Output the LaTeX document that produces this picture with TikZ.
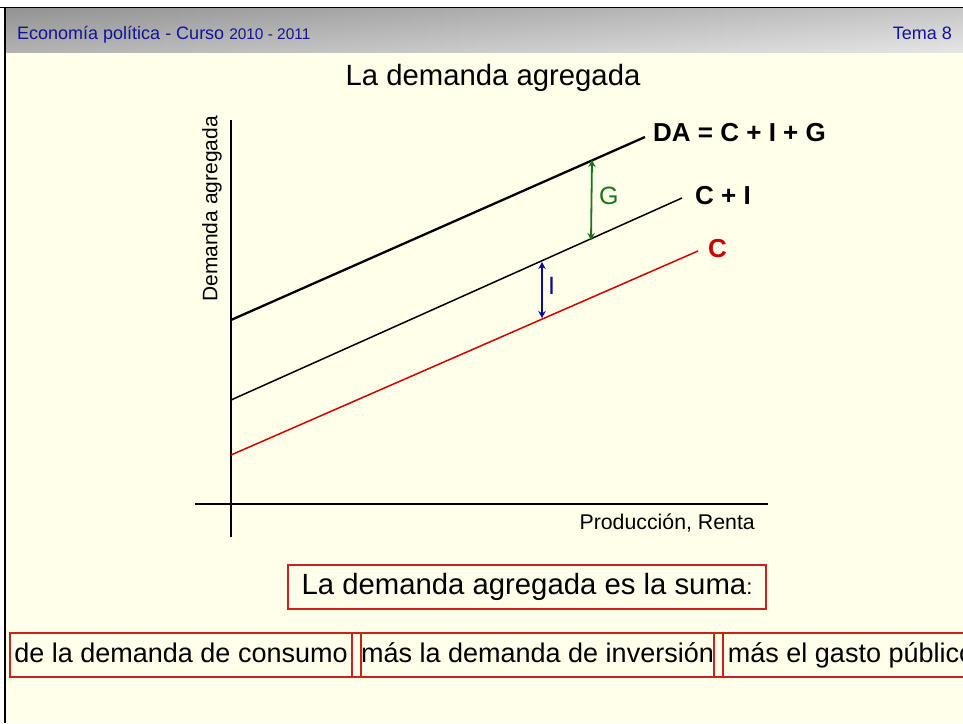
\documentclass[tikz,border=0pt]{standalone}
\usepackage{fontspec}
\setmainfont{Liberation Sans}
\usetikzlibrary{arrows.meta}
\definecolor{bg}{HTML}{FFFFEA}
\definecolor{hdrdark}{HTML}{A8A8A8}
\definecolor{hdrmid}{HTML}{D4D4D4}
\definecolor{hdrlight}{HTML}{E2E2E2}
\definecolor{hdrblue}{HTML}{12129C}
\definecolor{cred}{HTML}{CC0000}
\definecolor{ggreen}{HTML}{17761A}
\definecolor{iblue}{HTML}{0C0C9A}
\definecolor{boxred}{HTML}{CC2020}
\tikzset{
  fs/.style={font=\fontsize{#1}{#1}\selectfont},
  bfs/.style={font=\bfseries\fontsize{#1}{#1}\selectfont},
  curve/.style={line width=1.5pt},
  gaparrow/.style={line width=1.8pt,{Stealth[length=7pt,width=7.5pt]}-{Stealth[length=7pt,width=7.5pt]}},
  sumbox/.style={draw=boxred,line width=1.1pt,inner sep=0pt,minimum height=44pt,fs=27,
    text height=19.5pt,text depth=5.5pt},
}
\begin{document}
\begin{tikzpicture}[x=1pt,y=-1pt]
\useasboundingbox (0,0) rectangle (963,723);
\clip (0,0) rectangle (963,723);
\fill[white] (0,0) rectangle (963,723);
\fill[bg] (6,52) rectangle (963,723);
\shade[left color=hdrdark,middle color=hdrmid,right color=hdrlight] (6,8) rectangle (963,52);
\shade[top color=black,bottom color=white,opacity=0.12] (6,8) rectangle (963,52);
\draw[line width=1.5pt] (0,7.5) -- (963,7.5);
\draw[line width=2.5pt] (5,7) -- (5,723);

% header
\node[anchor=base west,inner sep=0pt,text=hdrblue,fs=18] (hdr) at (17,39)
  {Economía política - Curso {\fontsize{15.4}{16}\selectfont 2010 - 2011}};
\node[anchor=base east,inner sep=0pt,text=hdrblue,fs=18] (tema) at (952,39) {Tema 8};

% title
\node[anchor=base,inner sep=0pt,fs=29.3] (title) at (493,85) {La demanda agregada};

% axes
\coordinate (yb) at (231,537);
\coordinate (yt) at (231,120);
\coordinate (xl) at (195,504);
\coordinate (xr) at (768,504);
\draw[line width=2pt] (yb) -- (yt);
\draw[line width=1.3pt] (xl) -- (xr);
\node[rotate=90,inner sep=0pt,fs=21] (ylab) at (212,209) {Demanda agregada};
\node[anchor=base east,inner sep=0pt,fs=21.3] (xlab) at (755,529) {Producción, Renta};

% curves
\coordinate (da0) at (231,320);
\coordinate (da1) at (645,137);
\coordinate (ci0) at (231,400);
\coordinate (ci1) at (682,198);
\coordinate (c0) at (231,455);
\coordinate (c1) at (698,251);
\draw[line width=2.3pt] (da0) -- (da1);
\draw[curve] (ci0) -- (ci1);
\draw[curve,cred] (c0) -- (c1);

\node[anchor=west,inner sep=0pt,bfs=26] (dalab) at (653,133) {DA = C + I + G};
\node[anchor=west,inner sep=0pt,bfs=26] (cilab) at (695,196) {C + I};
\node[anchor=west,inner sep=0pt,text=cred,bfs=26] (clab) at (708,249) {C};

% gap arrows
\coordinate (g0) at (592,160);
\coordinate (g1) at (591,240);
\draw[gaparrow,ggreen] (g0) -- (g1);
\node[anchor=west,inner sep=0pt,text=ggreen,fs=25] (glab) at (599,196) {G};
\coordinate (i0) at (542,262);
\coordinate (i1) at (542,318);
\draw[gaparrow,iblue] (i0) -- (i1);
\node[anchor=west,inner sep=0pt,text=iblue,fs=25] (ilab) at (548,286) {I};

% boxes
\node[sumbox,minimum width=478pt,fs=29.3,text height=21pt,text depth=6pt] (sum) at (527,587)
  {La demanda agregada es la suma{\fontsize{22}{22}\selectfont :}};
\node[sumbox,minimum width=342pt] (b1) at (181,655) {de la demanda de consumo};
\node[sumbox,minimum width=9pt] (gap1) at (356.5,655) {};
\node[sumbox,minimum width=353pt] (b2) at (537.5,655) {más la demanda de inversión};
\node[sumbox,minimum width=9pt] (gap2) at (718.5,655) {};
\node[sumbox,minimum width=255pt,anchor=west] (b3) at (723,655) {más el gasto público};
\end{tikzpicture}
\end{document}
